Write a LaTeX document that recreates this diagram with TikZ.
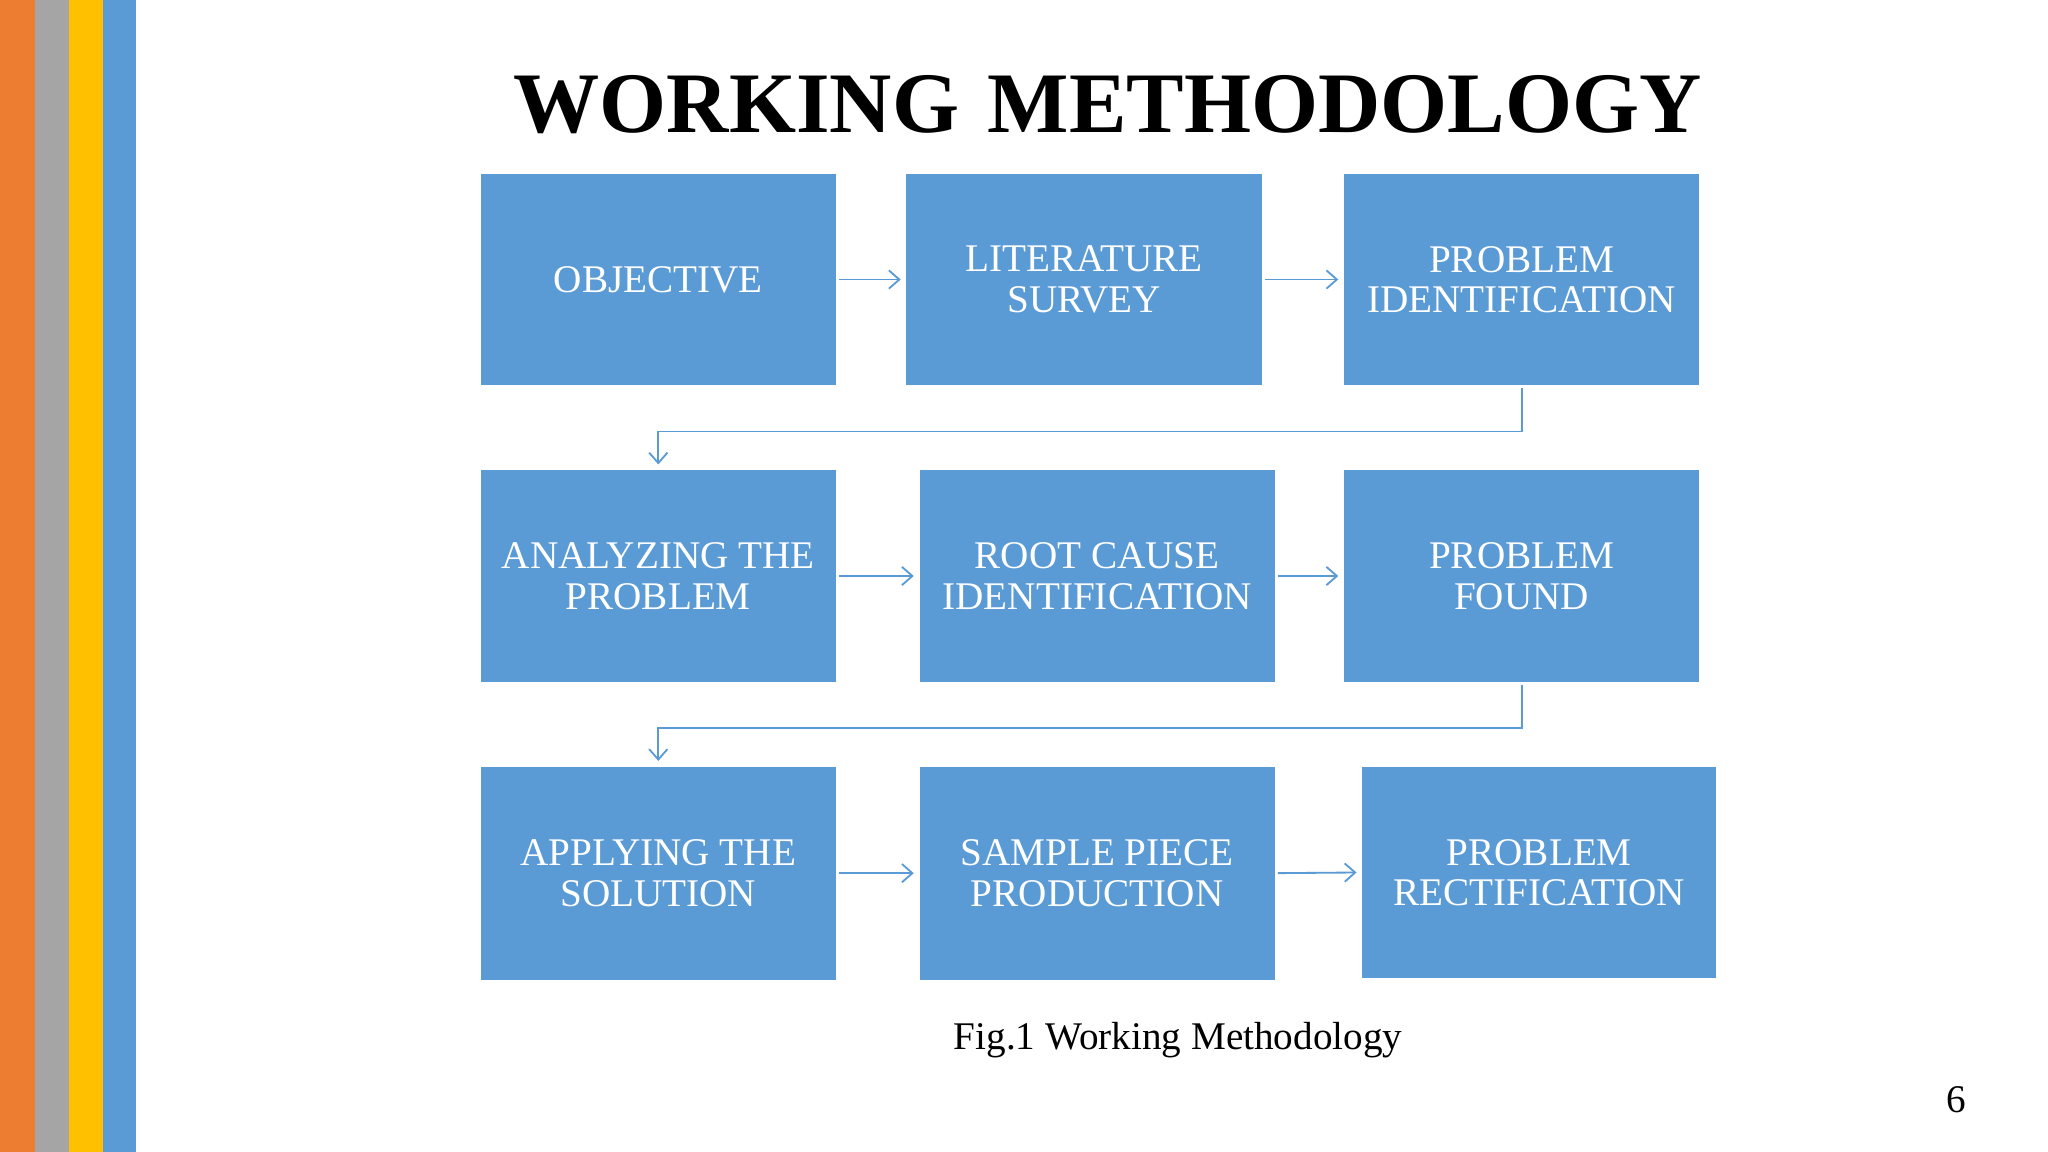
\documentclass[tikz,border=0pt]{standalone}
\usepackage{fontspec}
\setmainfont{Liberation Serif}
\usetikzlibrary{arrows.meta}
\definecolor{bx}{HTML}{5B9BD5}
\definecolor{or}{HTML}{ED7D31}
\definecolor{gr}{HTML}{A5A5A5}
\definecolor{ye}{HTML}{FFC000}
\tikzset{
 box/.style={fill=bx,draw=none,text=white,font=\fontsize{15}{15.5}\selectfont,align=center,inner sep=0pt},
 con/.style={draw=bx,line width=0.7pt,-{Straight Barb[length=4pt,width=7pt]}}
}
\begin{document}
\begin{tikzpicture}[x=0.5pt,y=-0.5pt]
\useasboundingbox (0,0) rectangle (1568,882);
\fill[white] (0,0) rectangle (1568,882);
\fill[or] (0,0) rectangle (27,882);
\fill[gr] (27,0) rectangle (53,882);
\fill[ye] (53,0) rectangle (79,882);
\fill[bx] (79,0) rectangle (104,882);
\node[font=\fontsize{33}{34}\selectfont\bfseries] (title) at (848,80) {WORKING\,\,METHODOLOGY};
\newcommand{\bx}[6]{\node[box,minimum width=#4*0.5pt-#2*0.5pt,minimum height=#5*0.5pt-#3*0.5pt] (#1) at ({(#2+#4)/2},{(#3+#5)/2}) {#6};}
\bx{a}{368}{133}{640}{295}{OBJECTIVE}
\bx{b}{694}{133}{966}{295}{LITERATURE\\SURVEY}
\bx{c}{1029}{133}{1301}{295}{PROBLEM\\IDENTIFICATION}
\bx{d}{368}{360}{640}{522}{ANALYZING THE\\PROBLEM}
\bx{e}{704}{360}{976}{522}{ROOT CAUSE\\IDENTIFICATION}
\bx{f}{1029}{360}{1301}{522}{PROBLEM\\FOUND}
\bx{g}{368}{587}{640}{750}{APPLYING THE\\SOLUTION}
\bx{h}{704}{587}{976}{750}{SAMPLE PIECE\\PRODUCTION}
\bx{i}{1043}{587}{1314}{749}{PROBLEM\\RECTIFICATION}
\draw[con] ([xshift=1pt]a.east) -- ([xshift=-2pt]b.west);
\draw[con] ([xshift=1pt]b.east) -- ([xshift=-2pt]c.west);
\draw[con] ([xshift=1pt]d.east) -- ([xshift=-2pt]e.west);
\draw[con] ([xshift=1pt]e.east) -- ([xshift=-2pt]f.west);
\draw[con] ([xshift=1pt]g.east) -- ([xshift=-2pt]h.west);
\draw[con] ([xshift=1pt]h.east) -- ([xshift=-2pt]i.west);
\draw[con] ([yshift=-1pt]c.south) -- ++(0,33) -| ([yshift=2pt]d.north);
\draw[con] ([yshift=-1pt]f.south) -- ++(0,33) -| ([yshift=2pt]g.north);
\node[font=\fontsize{15}{16}\selectfont] (cap) at (902,796) {Fig.1 Working Methodology};
\node[font=\fontsize{15}{16}\selectfont] (pg) at (1498,842) {6};
\end{tikzpicture}
\end{document}
